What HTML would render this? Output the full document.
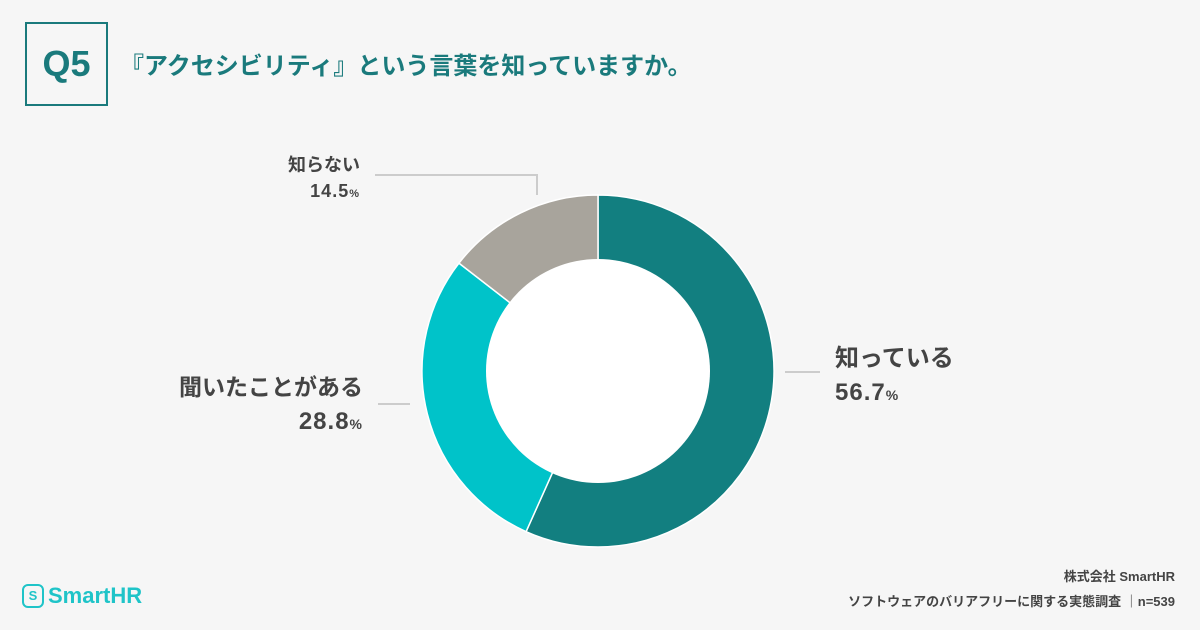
<!DOCTYPE html>
<html><head><meta charset="utf-8">
<style>
body{margin:0;width:1200px;height:630px;background:#f6f6f6;font-family:"Liberation Sans","Noto Sans CJK JP",sans-serif;overflow:hidden;position:relative}
.abs{position:absolute}
</style></head><body>
<div class="abs" style="left:25px;top:22px;width:79px;height:80px;border:2px solid #1a7a7c;display:flex;align-items:center;justify-content:center;color:#1a7a7c;font-weight:bold;font-size:36px">Q5</div>
<div class="abs" style="left:120px;top:46px;font-size:24px;font-weight:bold;color:#1a7a7c;white-space:nowrap">『アクセシビリティ』という言葉を知っていますか。</div>
<svg class="abs" style="left:0;top:0" width="1200" height="630">
<g id="slices"></g>
<circle cx="598" cy="371" r="112" fill="#fff"/>
<polyline points="375,175 537,175 537,195" fill="none" stroke="#ccc" stroke-width="2"/>
<line x1="785" y1="372" x2="820" y2="372" stroke="#ccc" stroke-width="2"/>
<line x1="378" y1="404" x2="410" y2="404" stroke="#ccc" stroke-width="2"/>
</svg>
<div class="abs" style="left:835px;top:342px;color:#444;font-weight:bold;font-size:24px;line-height:34px">知っている<br><span style="letter-spacing:1px">56.7<small style="font-size:14px">%</small></span></div>
<div class="abs" style="right:837px;top:370px;text-align:right;color:#444;font-weight:bold;font-size:23px;line-height:34px;white-space:nowrap">聞いたことがある<br><span style="letter-spacing:1px;font-size:24px">28.8<small style="font-size:14px">%</small></span></div>
<div class="abs" style="right:840px;top:152px;text-align:right;color:#444;font-weight:bold;font-size:18px;line-height:26px;white-space:nowrap">知らない<br><span style="letter-spacing:1px">14.5<small style="font-size:11px">%</small></span></div>
<div class="abs" style="left:22px;top:583px;display:flex;align-items:center;color:#1fc4c8;font-weight:bold;font-size:22px">
<span style="display:inline-block;width:18px;height:20px;border:2px solid #1fc4c8;border-radius:6px;font-size:13px;text-align:center;line-height:20px;margin-right:4px">S</span>SmartHR</div>
<div class="abs" style="right:25px;top:564px;text-align:right;color:#444;font-weight:bold;font-size:13px;line-height:25px">株式会社 SmartHR<br>ソフトウェアのバリアフリーに関する実態調査 ｜n=539</div>
<script>
const categories=["知っている","聞いたことがある","知らない"];
const values=[56.7,28.8,14.5];
const colors=["#127f80","#00c3c9","#a8a49c"];
const cx=598,cy=371,R=176;
const g=document.getElementById('slices');
const total=values.reduce((a,b)=>a+b,0);
let a0=0;
values.forEach((v,i)=>{
  const a1=a0+v/total*2*Math.PI;
  const p=(a)=>[cx+R*Math.sin(a),cy-R*Math.cos(a)];
  const [x0,y0]=p(a0),[x1,y1]=p(a1);
  const path=document.createElementNS('http://www.w3.org/2000/svg','path');
  path.setAttribute('d',`M${cx},${cy}L${x0},${y0}A${R},${R} 0 ${a1-a0>Math.PI?1:0} 1 ${x1},${y1}Z`);
  path.setAttribute('fill',colors[i]);
  path.setAttribute('stroke','#fff');
  path.setAttribute('stroke-width','1.5');
  
  
  g.appendChild(path);
  a0=a1;
});
</script>
</body></html>
